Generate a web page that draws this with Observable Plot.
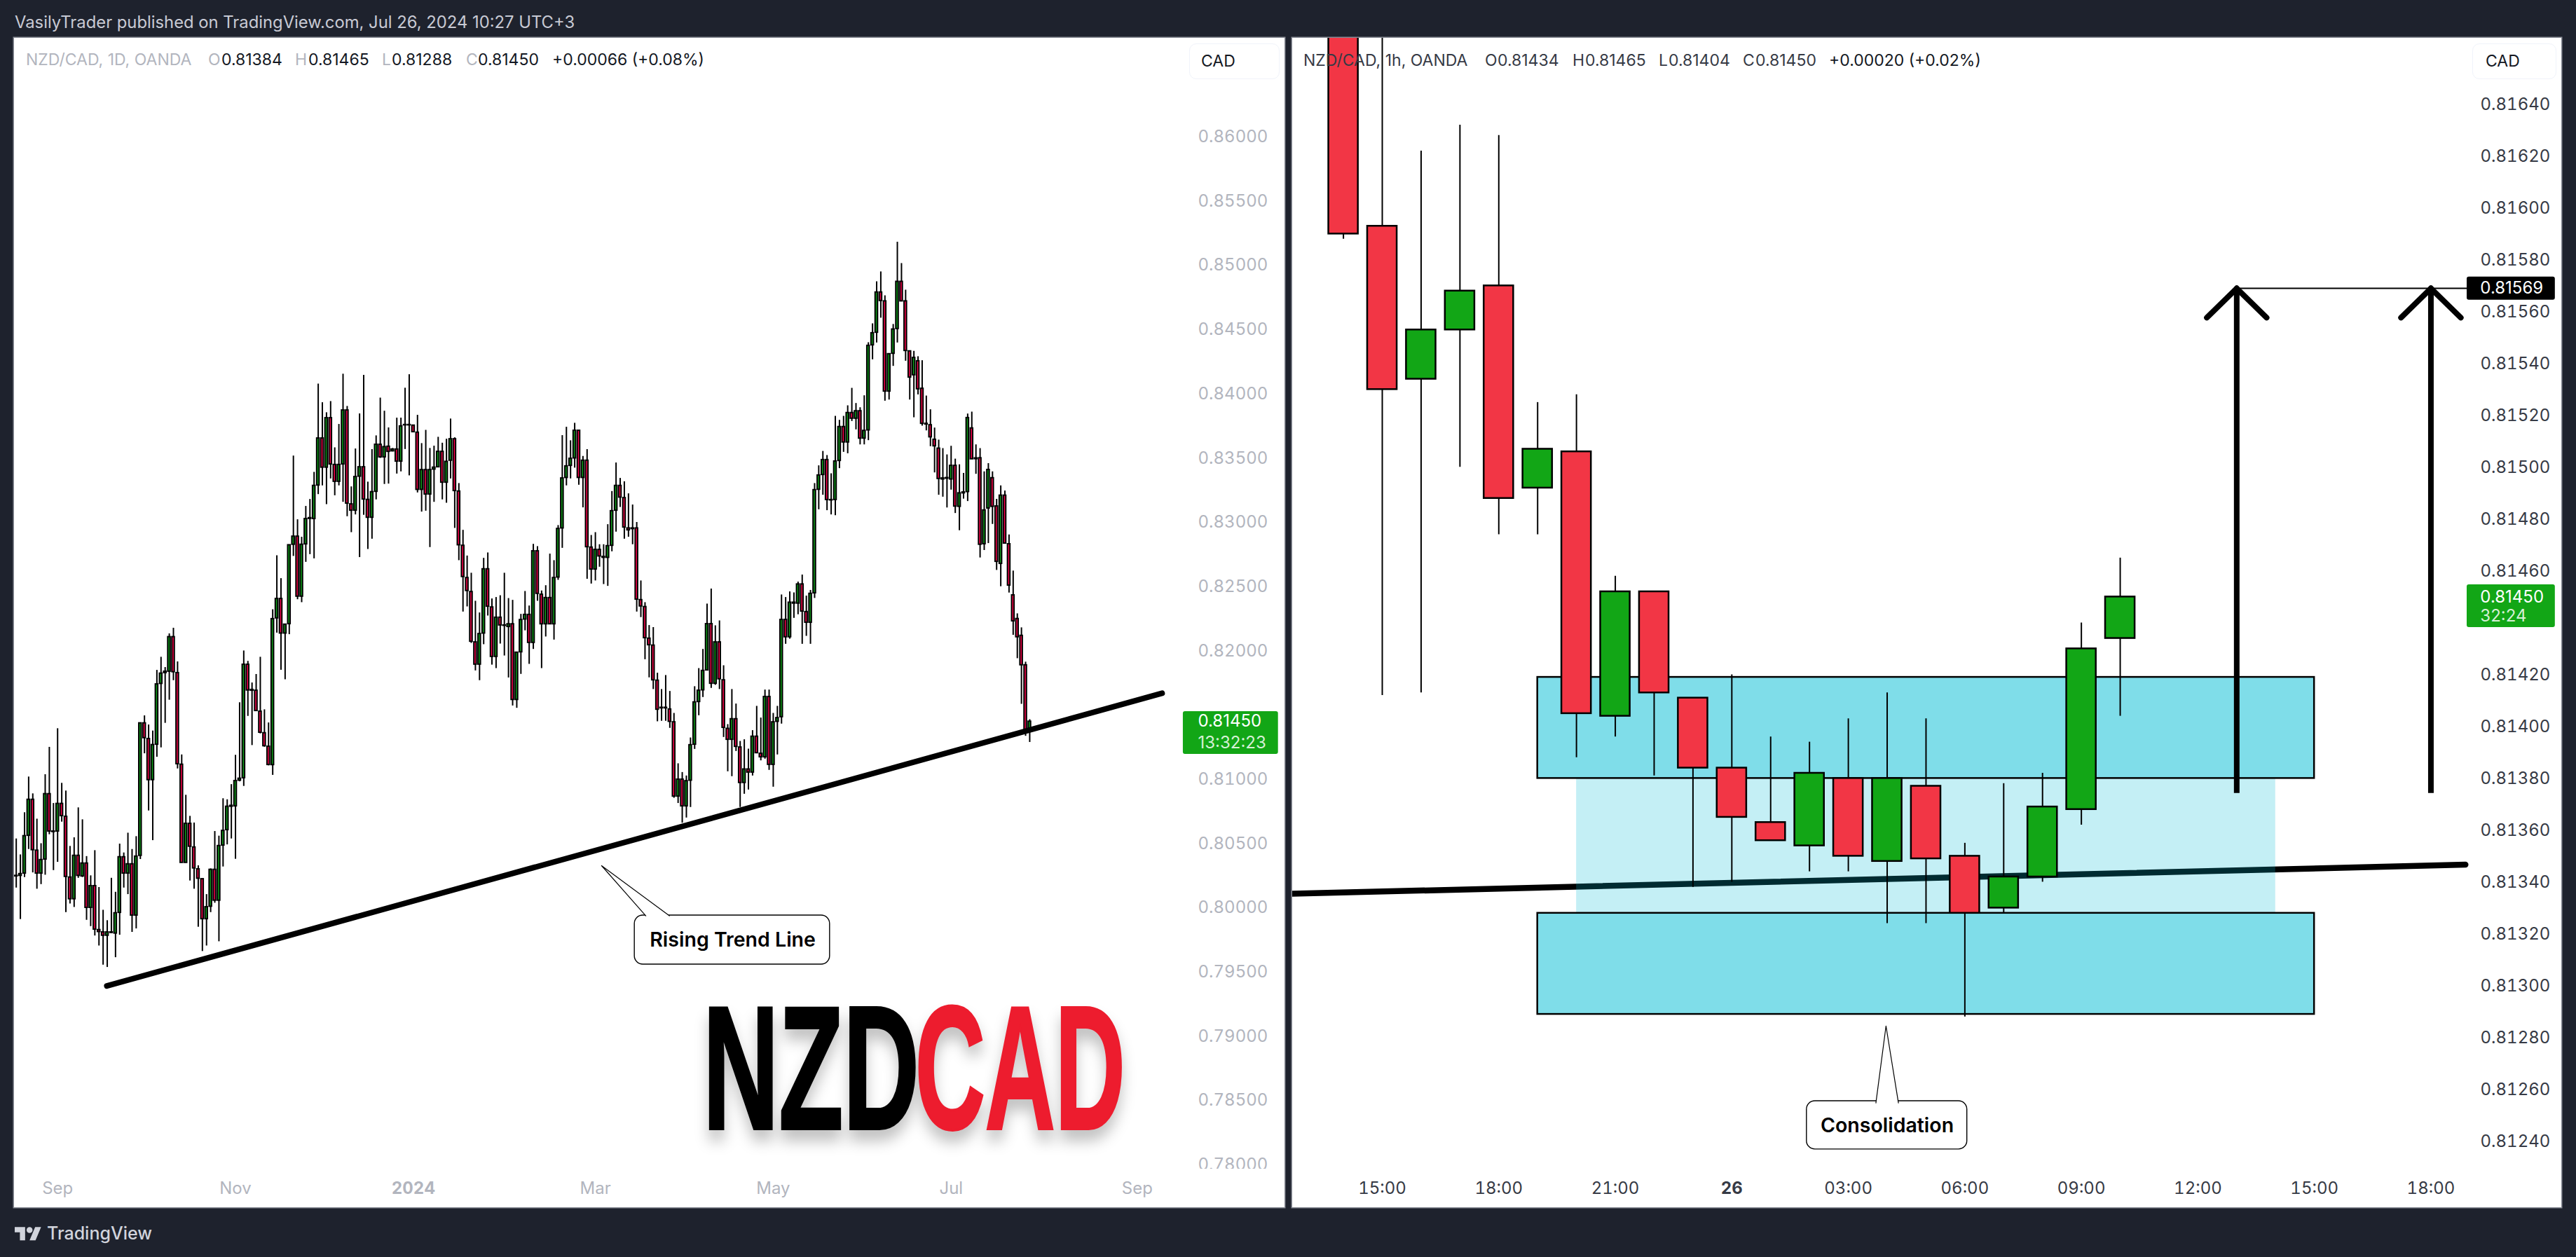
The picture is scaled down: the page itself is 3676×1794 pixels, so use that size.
<!DOCTYPE html>
<html><head><meta charset="utf-8">
<script src="https://cdn.jsdelivr.net/npm/d3@7"></script>
<script src="https://cdn.jsdelivr.net/npm/@observablehq/plot@0.6"></script>
<style>
html,body{margin:0;padding:0;background:#1e222d;width:3676px;height:1794px;overflow:hidden;font-family:Inter,"Liberation Sans",sans-serif}
#page{position:relative;width:3676px;height:1794px}
#page svg.pane{position:absolute;box-shadow:0 0 0 1.5px #868993}
.t{position:absolute;white-space:nowrap;line-height:1;transform:translateY(-50%)}
</style></head><body><div id="page"></div>
<script>
// ---------- daily candles, NZD/CAD 1D ----------
const dailyOpen=[
.80250,.80250,.80268,.80562,.80842,.80446,.80268,.80377,.80886,.80591,.80595,.80810,.80710,.80237,.80068,.80406,.80246,.80346,.80001,.80170,
.79828,.79810,.79784,.79806,.79801,.79962,.80395,.80268,.80340,.79941,.80406,.81437,.81315,.80995,.81271,.81744,.81828,.81839,.82108,.81828,
.81115,.80351,.80655,.80471,.80301,.80224,.79913,.80010,.80297,.80057,.80486,.80606,.80788,.80791,.80991,.81010,.81893,.81691,.81691,.81528,
.81360,.81255,.81112,.82254,.82405,.82136,.82209,.82827,.82890,.82423,.82830,.83028,.83027,.83288,.83654,.83427,.83812,.83448,.83317,.83452,
.83872,.83141,.83092,.83357,.83430,.83176,.83037,.83239,.83605,.83507,.83590,.83554,.83568,.83474,.83756,.83756,.83754,.83699,.83254,.83408,
.83218,.83412,.83430,.83550,.83310,.83481,.83648,.83241,.82819,.82568,.82459,.82067,.81894,.82136,.82636,.82339,.81954,.82259,.82196,.82187,
.82208,.81619,.81990,.82245,.82281,.82063,.82776,.82438,.82208,.82412,.82208,.82572,.82954,.83347,.83441,.83499,.83714,.83347,.83481,.82805,
.82634,.82787,.82725,.82725,.82819,.83092,.83285,.83190,.82954,.82949,.82954,.82396,.82342,.82096,.82042,.81769,.81554,.81554,.81545,.81445,
.80867,.80999,.80791,.80991,.81271,.81603,.81694,.81849,.82209,.81745,.82067,.81772,.81394,.81309,.81469,.81249,.80973,.81078,.81054,.81333,
.81200,.81173,.81642,.81114,.81449,.81485,.82242,.82107,.82369,.82369,.82518,.82303,.82220,.82449,.83255,.83370,.83486,.83172,.83175,.83479,
.83743,.83623,.83852,.83808,.83866,.83653,.83717,.84379,.84477,.84790,.84721,.84019,.84313,.84506,.84873,.84721,.84332,.84146,.84255,.84041,
.83768,.83757,.83644,.83575,.83335,.83346,.83335,.83441,.83122,.83227,.83237,.83732,.83493,.83500,.82831,.83109,.83345,.83125,.82678,.83209,
.82831,.82433,.82249,.82118,.81889,.81384];
const dailyHigh=[
.80537,.80413,.80741,.81019,.80888,.80691,.80500,.81037,.81250,.80813,.81395,.80970,.80910,.80479,.80546,.80779,.80686,.80400,.80250,.80446,
.80159,.79982,.79901,.80231,.80122,.80497,.80428,.80582,.80455,.80555,.81437,.81495,.81424,.81377,.81849,.81951,.81871,.82133,.82177,.81915,
.81191,.80877,.80713,.80661,.80328,.80224,.80104,.80304,.80595,.80559,.80850,.80842,.80960,.81188,.81597,.82000,.81919,.81751,.81817,.81951,
.81542,.81440,.82321,.82741,.82563,.82205,.82823,.83517,.83021,.82885,.83125,.83179,.83390,.84077,.83932,.83854,.83941,.83581,.83763,.84154,
.83903,.83277,.83572,.83845,.84145,.83314,.83567,.83674,.83968,.83866,.83736,.83576,.83812,.83812,.84045,.84150,.83754,.83834,.83614,.83717,
.83576,.83594,.83663,.83617,.83648,.83805,.83659,.83303,.82939,.82739,.82605,.82387,.82296,.82721,.82763,.82405,.82416,.82430,.82605,.82408,
.82394,.81987,.82285,.82463,.82350,.82830,.82812,.82467,.82508,.82754,.82703,.82976,.83676,.83741,.83636,.83772,.83714,.83514,.83567,.82899,
.82921,.82827,.82827,.82983,.83241,.83463,.83343,.83317,.83223,.83136,.83000,.82545,.82376,.82198,.82182,.81827,.81700,.81809,.81685,.81514,
.81122,.81054,.81027,.81323,.81722,.81863,.82012,.82365,.82482,.82196,.82234,.81885,.81427,.81700,.81587,.81296,.81309,.81236,.81380,.81569,
.81478,.81696,.81696,.81514,.81569,.82436,.82416,.82460,.82452,.82536,.82591,.82427,.82471,.83303,.83441,.83553,.83521,.83379,.83826,.83795,
.83826,.83908,.84044,.83926,.83893,.83986,.84399,.84546,.84873,.84950,.84764,.84310,.84541,.85181,.85015,.84808,.84332,.84332,.84290,.84259,
.83984,.83877,.83735,.83641,.83575,.83526,.83593,.83493,.83449,.83382,.83844,.83859,.83604,.83575,.83394,.83458,.83394,.83180,.83285,.83245,
.82903,.82622,.82289,.82180,.81913,.81465];
const dailyLow=[
.80155,.79910,.80237,.80455,.80273,.80146,.80182,.80255,.80570,.80291,.80355,.80668,.79964,.80031,.80004,.80231,.80237,.79904,.79855,.79782,
.79704,.79555,.79537,.79801,.79613,.79788,.80155,.80104,.79810,.79837,.80377,.81200,.80755,.80524,.81173,.81246,.81437,.81617,.81769,.81082,
.80351,.80351,.80210,.80146,.79850,.79661,.79704,.79964,.80037,.79737,.80319,.80491,.80537,.80379,.80982,.80946,.81491,.81264,.81528,.81355,
.81251,.81106,.81032,.82139,.81850,.81776,.82127,.82736,.82399,.82376,.82690,.82750,.82717,.83217,.83285,.83139,.83339,.83208,.83285,.83157,
.83045,.82921,.83059,.82727,.83056,.82790,.82870,.83176,.83499,.83296,.83299,.83550,.83377,.83394,.83568,.83363,.83699,.83230,.83081,.83088,
.82805,.83157,.83427,.83176,.83150,.83339,.82954,.82703,.82303,.82343,.82059,.81845,.81769,.82049,.82272,.81890,.81863,.82054,.81961,.81790,
.81572,.81554,.81818,.82157,.81896,.82012,.82387,.81863,.82109,.82208,.82085,.82550,.82799,.83285,.83339,.83423,.83290,.83114,.82558,.82521,
.82545,.82652,.82517,.82503,.82772,.82925,.83117,.82870,.82885,.82827,.82303,.82260,.81932,.81791,.81700,.81449,.81453,.81453,.81398,.80854,
.80813,.80660,.80700,.80782,.81234,.81496,.81638,.81849,.81709,.81733,.81700,.81327,.81060,.81022,.81218,.80782,.80885,.80918,.81027,.81200,
.81145,.81158,.81071,.80940,.81191,.81431,.82052,.82092,.82254,.82282,.82052,.82114,.82052,.82409,.83099,.83212,.83092,.83059,.83053,.83419,
.83546,.83535,.83786,.83721,.83604,.83604,.83637,.84266,.84397,.84590,.83944,.83953,.84215,.84397,.84721,.84255,.83953,.83815,.83993,.83750,
.83713,.83590,.83386,.83212,.83197,.83113,.83252,.83070,.82936,.83182,.83163,.83492,.83375,.82724,.82782,.82836,.82985,.82627,.82500,.82831,
.82451,.82122,.81940,.81585,.81336,.81288];
const dailyClose=[
.80246,.80264,.80559,.80842,.80450,.80268,.80373,.80886,.80595,.80595,.80810,.80715,.80242,.80068,.80406,.80250,.80346,.80001,.80170,.79832,
.79813,.79784,.79810,.79810,.79959,.80395,.80268,.80340,.79941,.80400,.81437,.81322,.80995,.81268,.81740,.81824,.81839,.82108,.81835,.81119,
.80351,.80655,.80477,.80308,.80228,.79913,.80006,.80297,.80057,.80482,.80600,.80788,.80795,.80988,.81006,.81893,.81693,.81697,.81533,.81364,
.81259,.81113,.82248,.82405,.82136,.82205,.82823,.82890,.82423,.82827,.83027,.83034,.83285,.83654,.83427,.83812,.83452,.83317,.83448,.83872,
.83147,.83092,.83354,.83430,.83179,.83037,.83236,.83605,.83507,.83587,.83550,.83568,.83474,.83748,.83759,.83759,.83703,.83254,.83408,.83218,
.83408,.83427,.83550,.83310,.83472,.83648,.83245,.82823,.82576,.82467,.82072,.81894,.82132,.82636,.82345,.81954,.82259,.82199,.82199,.82208,
.81619,.81987,.82241,.82281,.82063,.82776,.82445,.82208,.82412,.82208,.82568,.82950,.83343,.83437,.83496,.83714,.83347,.83481,.82808,.82634,
.82787,.82736,.82732,.82816,.83088,.83285,.83194,.82961,.82939,.82954,.82400,.82347,.82100,.82045,.81772,.81543,.81558,.81558,.81449,.80867,
.80999,.80791,.80987,.81267,.81600,.81691,.81845,.82209,.81745,.82067,.81780,.81402,.81309,.81469,.81254,.80973,.81078,.81054,.81333,.81205,
.81173,.81642,.81114,.81445,.81478,.82242,.82107,.82376,.82376,.82518,.82307,.82220,.82445,.83252,.83366,.83486,.83175,.83175,.83475,.83743,
.83623,.83852,.83808,.83866,.83653,.83713,.84375,.84473,.84790,.84724,.84019,.84310,.84502,.84873,.84721,.84335,.84128,.84281,.84037,.83768,
.83763,.83663,.83593,.83339,.83343,.83341,.83441,.83124,.83227,.83234,.83813,.83492,.83499,.82827,.83094,.83409,.83122,.82694,.83209,.82836,
.82509,.82231,.82107,.81889,.81382,.81450];

// ---------- hourly candles, NZD/CAD 1h (14:00 on the 25th onward) ----------
const hourlyOpen =[.81690,.81593,.81534,.81553,.81570,.81492,.81506,.81404,.81452,.81411,.81384,.81363,.81354,.81380,.81348,.81377,.81350,.81330,.81342,.81368,.81434];
const hourlyHigh =[.81720,.81680,.81622,.81632,.81628,.81525,.81528,.81458,.81452,.81411,.81420,.81396,.81394,.81403,.81413,.81403,.81355,.81378,.81382,.81440,.81465];
const hourlyLow  =[.81588,.81412,.81413,.81500,.81474,.81474,.81388,.81396,.81381,.81338,.81340,.81356,.81344,.81344,.81324,.81324,.81288,.81328,.81340,.81362,.81404];
const hourlyClose=[.81590,.81530,.81553,.81568,.81488,.81507,.81405,.81452,.81413,.81384,.81365,.81356,.81382,.81350,.81380,.81349,.81328,.81342,.81369,.81430,.81450];

// ---------- axes ----------
const dailyTicks=[.78,.785,.79,.795,.80,.805,.81,.82,.825,.83,.835,.84,.845,.85,.855,.86];
const dailyMonthAt=[10,53,140,183,226,271], dailyMonthLabels=["Sep","Nov","Mar","May","Jul","Sep"];
const dailyYearAt=[96], dailyYearLabels=["2024"];
const hourlyTicks=[.8124,.8126,.8128,.813,.8132,.8134,.8136,.8138,.814,.8142,.8146,.8148,.815,.8152,.8154,.8156,.8158,.816,.8162,.8164];
const hourlyTimeAt=[1,4,7,13,16,19,22,25,28], hourlyTimeLabels=["15:00","18:00","21:00","03:00","06:00","09:00","12:00","15:00","18:00"];
const hourlyDayAt=[10], hourlyDayLabels=["26"];

// ---------- drawings ----------
const risingLine=[{i:21.9,p:.79392},{i:277,p:.81670}];
const supportLine=[{h:-1.31,p:.813355},{h:28.89,p:.813467}];
const zoneRows=[{h1:5,h2:25,p1:.8138,p2:.81419},{h1:5,h2:25,p1:.81289,p2:.81328}];
const midZone=[{h1:6,h2:24,p1:.81328,p2:.8138}];
const arrowHours=[23,28], targetPrice=.81569, arrowFoot=.813742, wingPrice=.815577, wingSpan=.77;
const colors={up:"#12a616",down:"#f23645",dayUp:"#0e9a19",dayDown:"#f5004a",zone:"#00bcd4"};

const daily=dailyOpen.map((o,i)=>({i,o,h:dailyHigh[i],l:dailyLow[i],c:dailyClose[i]}));
const hourly=hourlyOpen.map((o,i)=>({i,o,h:hourlyHigh[i],l:hourlyLow[i],c:hourlyClose[i]}));

const page=document.getElementById("page");
function place(svg,l,t){svg.classList.add("pane");svg.style.left=l+"px";svg.style.top=t+"px";page.appendChild(svg);}
const fontStyle={fontFamily:"Inter",background:"#fff"};
const fmt=d3.format(".5f");
const lookup=(at,labels)=>d=>labels[at.indexOf(d)];

// LEFT PANE
const hw=.3;
const left=Plot.plot({
  width:1813,height:1669,marginTop:0,marginLeft:0,marginRight:143,marginBottom:55,style:fontStyle,
  x:{domain:[-.452,282.45],axis:null},y:{domain:[.77967,.86768],axis:null},
  marks:[
    Plot.axisY(dailyTicks,{anchor:"right",tickSize:0,tickPadding:19,tickFormat:fmt,fontSize:24,color:"#b2b5be"}),
    Plot.axisX(dailyMonthAt,{anchor:"bottom",tickSize:0,tickPadding:18,tickFormat:lookup(dailyMonthAt,dailyMonthLabels),fontSize:24,color:"#b2b5be"}),
    Plot.axisX(dailyYearAt,{anchor:"bottom",tickSize:0,tickPadding:18,tickFormat:lookup(dailyYearAt,dailyYearLabels),fontSize:24,fontWeight:700,color:"#b2b5be"}),
    Plot.ruleX(daily,{x:"i",y1:"l",y2:"h",stroke:"#000",strokeWidth:2}),
    Plot.rect(daily.filter(d=>d.c>=d.o),{x1:d=>d.i-hw,x2:d=>d.i+hw,y1:"o",y2:"c",fill:colors.dayUp,stroke:"#000",strokeWidth:2}),
    Plot.rect(daily.filter(d=>d.c<d.o),{x1:d=>d.i-hw,x2:d=>d.i+hw,y1:"o",y2:"c",fill:colors.dayDown,stroke:"#000",strokeWidth:2}),
    Plot.line(risingLine,{x:"i",y:"p",stroke:"#000",strokeWidth:8,strokeLinecap:"round"}),
    // callout
    Plot.rect([{a:149.5,b:196.7,p1:.79559,p2:.79941}],{x1:"a",x2:"b",y1:"p1",y2:"p2",fill:"#fff",stroke:"#000",strokeWidth:1.4,rx:12}),
    Plot.line([{i:152.2,p:.79938},{i:141.5,p:.80328},{i:157.9,p:.79938}],{x:"i",y:"p",stroke:"#000",strokeWidth:1.2,fill:"#fff"}),
    Plot.text(["Rising Trend Line"],{x:173.2,y:.7975,text:d=>d,fontSize:28.5,fontWeight:600,fill:"#000"}),
    // last price tag
    Plot.rect([{a:282.1,b:305.1,p1:.81195,p2:.81528}],{x1:"a",x2:"b",y1:"p1",y2:"p2",fill:colors.up,rx:3}),
    Plot.text(["0.81450"],{x:285.66,y:.8145,text:d=>d,textAnchor:"start",fontSize:24,fill:"#fff"}),
    Plot.text(["13:32:23"],{x:285.66,y:.81282,text:d=>d,textAnchor:"start",fontSize:24,fill:"#d5f0d5"})
  ]});
place(left,20,54);

// RIGHT PANE
const hb=.38;
const right=Plot.plot({
  width:1811,height:1669,marginTop:0,marginLeft:0,marginRight:135,marginBottom:55,style:fontStyle,
  x:{domain:[-1.31,28.93],axis:null},y:{domain:[.812293,.816655],axis:null},
  marks:[
    Plot.axisY(hourlyTicks,{anchor:"right",tickSize:0,tickPadding:19,tickFormat:fmt,fontSize:24,color:"#363a45"}),
    Plot.axisX(hourlyTimeAt,{anchor:"bottom",tickSize:0,tickPadding:18,tickFormat:lookup(hourlyTimeAt,hourlyTimeLabels),fontSize:24,color:"#363a45"}),
    Plot.axisX(hourlyDayAt,{anchor:"bottom",tickSize:0,tickPadding:18,tickFormat:lookup(hourlyDayAt,hourlyDayLabels),fontSize:24,fontWeight:700,color:"#363a45"}),
    Plot.line(supportLine,{x:"h",y:"p",stroke:"#000",strokeWidth:8.5}),
    Plot.rect(midZone,{x1:"h1",x2:"h2",y1:"p1",y2:"p2",fill:colors.zone,fillOpacity:.23}),
    Plot.rect(zoneRows,{x1:"h1",x2:"h2",y1:"p1",y2:"p2",fill:colors.zone,fillOpacity:.5,stroke:"#000",strokeWidth:2.5}),
    Plot.ruleX(hourly,{x:"i",y1:"l",y2:"h",stroke:"#000",strokeWidth:2,clip:true}),
    Plot.rect(hourly.filter(d=>d.c>=d.o),{x1:d=>d.i-hb,x2:d=>d.i+hb,y1:"o",y2:"c",fill:colors.up,stroke:"#000",strokeWidth:2.5,clip:true}),
    Plot.rect(hourly.filter(d=>d.c<d.o),{x1:d=>d.i-hb,x2:d=>d.i+hb,y1:"o",y2:"c",fill:colors.down,stroke:"#000",strokeWidth:2.5,clip:true}),
    // arrows
    Plot.ruleX(arrowHours,{x:d=>d,y1:arrowFoot,y2:targetPrice,stroke:"#000",strokeWidth:8}),
    Plot.link(arrowHours,{x1:d=>d,y1:targetPrice,x2:d=>d-wingSpan,y2:wingPrice,stroke:"#000",strokeWidth:8,strokeLinecap:"round"}),
    Plot.link(arrowHours,{x1:d=>d,y1:targetPrice,x2:d=>d+wingSpan,y2:wingPrice,stroke:"#000",strokeWidth:8,strokeLinecap:"round"}),
    Plot.ruleY([targetPrice],{x1:23,x2:28.93,stroke:"#000",strokeWidth:2}),
    // callout
    Plot.rect([{a:11.93,b:16.06,p1:.812369,p2:.812555}],{x1:"a",x2:"b",y1:"p1",y2:"p2",fill:"#fff",stroke:"#000",strokeWidth:1.4,rx:12}),
    Plot.line([{h:13.71,p:.812548},{h:13.97,p:.812845},{h:14.29,p:.812548}],{x:"h",y:"p",stroke:"#000",strokeWidth:1.2,fill:"#fff"}),
    Plot.text(["Consolidation"],{x:14,y:.81246,text:d=>d,fontSize:28.5,fontWeight:600,fill:"#000"}),
    // price tags
    Plot.rect([{a:28.93,b:31.2,p1:.815645,p2:.815734}],{x1:"a",x2:"b",y1:"p1",y2:"p2",fill:"#000",rx:3}),
    Plot.text(["0.81569"],{x:29.27,y:targetPrice,text:d=>d,textAnchor:"start",fontSize:24,fill:"#fff"}),
    Plot.rect([{a:28.93,b:31.2,p1:.814382,p2:.814547}],{x1:"a",x2:"b",y1:"p1",y2:"p2",fill:colors.up,rx:3}),
    Plot.text(["0.81450"],{x:29.27,y:.8145,text:d=>d,textAnchor:"start",fontSize:24,fill:"#fff"}),
    Plot.text(["32:24"],{x:29.27,y:.814426,text:d=>d,textAnchor:"start",fontSize:24,fill:"#d5f0d5"})
  ]});
place(right,1844,54);

// OVERLAY TEXT
function t(text,x,y,size,color,extra){const e=document.createElement("div");e.className="t";e.textContent=text;
  e.style.cssText=`left:${x}px;top:${y}px;font-size:${size}px;color:${color};${extra||""}`;page.appendChild(e);return e;}
t("VasilyTrader published on TradingView.com, Jul 26, 2024 10:27 UTC+3",21,32,23.8,"#c8cad4");
t("TradingView",67,1760,25,"#d1d4dc","font-weight:500");
const lG="#b2b5be",V="#131722";
[["NZD/CAD, 1D, OANDA",37,lG],["O",297,lG],["0.81384",316,V],["H",421,lG],["0.81465",440,V],["L",545,lG],["0.81288",559,V],["C",665,lG],["0.81450",682,V],["+0.00066 (+0.08%)",788,V]]
  .forEach(([s,x,c])=>t(s,x,85,23,c));
const lD="#363a45";
[["NZD/CAD, 1h, OANDA",1860,lD],["O",2119,lD],["0.81434",2137,lD],["H",2244,lD],["0.81465",2262,lD],["L",2367,lD],["0.81404",2381,lD],["C",2487,lD],["0.81450",2505,lD],["+0.00020 (+0.02%)",2610,V]]
  .forEach(([s,x,c])=>t(s,x,86,23,c));
// CAD buttons
[[1697,1826,1714],[3528,3648,3547]].forEach(([a,b,x])=>{
  const d=document.createElement("div");
  d.style.cssText=`position:absolute;left:${a}px;top:62px;width:${b-a}px;height:51px;box-sizing:border-box;border:1.5px solid #f0f3fa;border-radius:10px;background:#fff`;
  page.appendChild(d);t("CAD",x,87,23,"#131722");});
// clip the bottom left tick label
const clipDiv=document.createElement("div");
clipDiv.style.cssText="position:absolute;left:1700px;top:1668px;width:132px;height:12px;background:#fff";page.appendChild(clipDiv);
// logos
const ns="http://www.w3.org/2000/svg";
const over=document.createElementNS(ns,"svg");
over.setAttribute("width",3676);over.setAttribute("height",1794);over.style.cssText="position:absolute;left:0;top:0;pointer-events:none";
over.innerHTML=`<g style="filter:drop-shadow(0 16px 10px rgba(0,0,0,.24))" font-family="Liberation Sans Narrow,Liberation Sans" font-weight="700" font-size="250" stroke-width="4" stroke-linejoin="miter">
<text transform="translate(1003,1611) scale(.601,1)" fill="#000" stroke="#000">NZD</text>
<text transform="translate(1306,1611) scale(.553,1)" fill="#ed1c2e" stroke="#ed1c2e">CAD</text></g>
<g transform="translate(21,1747) scale(1.06)" fill="#d1d4dc"><path d="M14 22H7V11H0V4h14v18zM28 22h-8l7.5-18h8L28 22z"/><circle cx="20" cy="8" r="4"/></g>`;
page.appendChild(over);
</script></body></html>
